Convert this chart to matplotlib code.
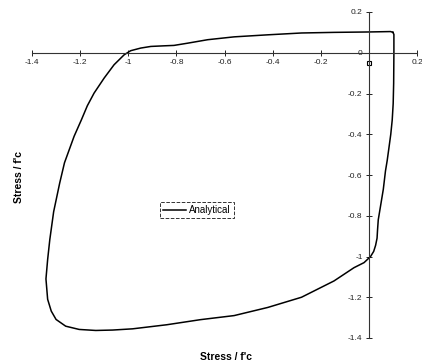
import matplotlib
matplotlib.use("Agg")
import matplotlib.pyplot as plt

plt.rcParams['font.family'] = ['Liberation Sans', 'DejaVu Sans']

# Loop (x: strain-like, y: stress / f'c)
loop_x = [0.100, 0.104, 0.104, 0.103, 0.101, 0.097, 0.091, 0.083, 0.076, 0.069, 0.060, 0.046, 0.039,
          0.036, 0.034, 0.028, 0.020, 0.007, -0.02, -0.062,
          -0.145, -0.28, -0.42, -0.56, -0.70, -0.84, -0.982, -1.065, -1.135, -1.204, -1.26, -1.30,
          -1.32, -1.335, -1.342, -1.335, -1.326,
          -1.31, -1.285, -1.265, -1.225, -1.195, -1.17, -1.142, -1.10, -1.059, -1.017, -0.99, -0.948,
          -0.906, -0.851, -0.81, -0.753, -0.67, -0.56, -0.42, -0.28, -0.145, 0.0, 0.09, 0.100]
loop_y = [0.100, 0.09, 0.0, -0.15, -0.25, -0.33, -0.40, -0.47, -0.53, -0.58, -0.67, -0.77, -0.82,
          -0.87, -0.91, -0.945, -0.975, -1.0, -1.03, -1.055,
          -1.12, -1.20, -1.25, -1.29, -1.31, -1.335, -1.355, -1.361, -1.363, -1.358, -1.342, -1.309,
          -1.268, -1.21, -1.11, -1.015, -0.917,
          -0.78, -0.64, -0.54, -0.41, -0.33, -0.26, -0.198, -0.124, -0.059, -0.01, 0.01, 0.023,
          0.031, 0.034, 0.036, 0.047, 0.064, 0.078, 0.088, 0.097, 0.100, 0.102, 0.104, 0.100]

start_x = [0.0]
start_y = [-0.05]

xticks = [-1.4, -1.2, -1.0, -0.8, -0.6, -0.4, -0.2, 0.2]
xticklabels = ['-1.4', '-1.2', '-1', '-0.8', '-0.6', '-0.4', '-0.2', '0.2']
yticks = [-1.4, -1.2, -1.0, -0.8, -0.6, -0.4, -0.2, 0.0, 0.2]
yticklabels = ['-1.4', '-1.2', '-1', '-0.8', '-0.6', '-0.4', '-0.2', '0', '0.2']

fig = plt.figure(figsize=(4.22, 3.64), dpi=100)
ax = fig.add_axes([32/422, 1-338/364, (417-32)/422, (338-12)/364])

ax.plot(loop_x, loop_y, color='black', lw=1.1, label='Analytical', solid_joinstyle='round')
ax.plot(start_x, start_y, marker='s', ms=3, mfc='white', mec='black', mew=0.8, ls='none')

ax.set_xlim(-1.4, 0.2)
ax.set_ylim(-1.4, 0.2)

for s in ['top', 'right']:
    ax.spines[s].set_visible(False)
ax.spines['left'].set_position(('data', 0))
ax.spines['bottom'].set_position(('data', 0))
for s in ['left', 'bottom']:
    ax.spines[s].set_color('#333333')
    ax.spines[s].set_linewidth(0.8)

ax.set_xticks(xticks)
ax.set_xticklabels(xticklabels)
ax.set_yticks(yticks)
ax.set_yticklabels(yticklabels)
ax.tick_params(direction='inout', length=5, width=0.7, labelsize=6, pad=2, colors='#222222')

fig.text(226/422, 1-357/364, "Stress / f'c", ha='center', va='center', fontsize=7.5, fontweight='bold')
fig.text(19/422, 1-177/364, "Stress / f'c", ha='center', va='center', rotation=90, fontsize=7.5, fontweight='bold')

leg = ax.legend(loc='center', bbox_to_anchor=(197/422, 1-210/364), bbox_transform=fig.transFigure,
                fontsize=7, frameon=True, fancybox=False, handlelength=2.4, borderpad=0.3,
                handletextpad=0.3)
leg.get_frame().set_edgecolor('black')
leg.get_frame().set_linewidth(0.7)
leg.get_frame().set_linestyle('--')

fig.savefig('out.png', dpi=100)
